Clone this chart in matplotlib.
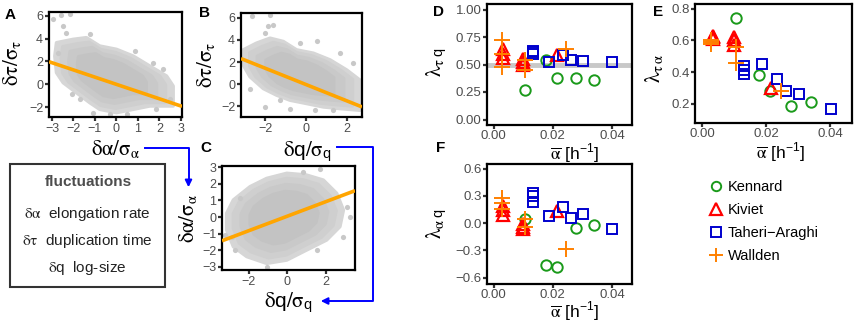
import matplotlib
matplotlib.use('Agg')
import matplotlib.pyplot as plt
from matplotlib.lines import Line2D
from matplotlib.patches import Rectangle, FancyArrowPatch
import numpy as np

plt.rcParams['font.family'] = ['Liberation Sans', 'DejaVu Sans']
plt.rcParams['mathtext.fontset'] = 'custom'
plt.rcParams['mathtext.rm'] = 'STIXGeneral'
plt.rcParams['mathtext.it'] = 'STIXGeneral:italic'
plt.rcParams['mathtext.sf'] = 'Liberation Sans'
plt.rcParams['mathtext.fallback'] = 'stix'

# ---------------- scatter panels (A, B, C) ----------------
# outline of the dense grey cloud
a_hull_x = [-2.79, -2.02, -1.40, -0.78, 0.0, 0.78, 1.55, 2.33, 2.64, 2.64, 1.55, 0.78, 0.0, -0.78, -1.24, -1.86, -2.48, -2.79, -2.87]
a_hull_y = [3.64, 3.93, 4.08, 3.35, 3.06, 2.47, 1.60, 0.73, -0.15, -1.89, -1.89, -2.18, -2.47, -2.18, -1.60, -0.73, 0.15, 1.02, 2.47]
a_out_x = [-2.95, -2.56, -2.17, -2.48, -2.33, -1.24, 0.85, 1.71, 2.17, -2.09, -1.71, -1.09, 0.47, 1.86, 2.48, -0.31, -2.71]
a_out_y = [5.68, 6.03, 6.11, 5.09, 4.51, 4.37, 2.91, 1.89, 1.31, -0.87, -1.31, -2.47, -2.62, -2.18, -1.31, -2.62, 2.77]
a_fit = [0.0, -0.63]

b_hull_x = [-3.07, -2.42, -1.76, -1.11, -0.46, 0.36, 1.18, 1.99, 2.64, 2.64, 1.67, 0.85, 0.03, -0.78, -1.44, -2.09, -2.74, -3.07]
b_hull_y = [3.10, 3.71, 4.16, 3.86, 3.10, 2.80, 2.19, 1.28, 0.36, -2.37, -2.22, -2.07, -1.76, -1.46, -1.00, -0.40, 0.67, 1.73]
b_out_x = [-2.66, -1.76, -2.01, -1.60, -1.84, -0.29, 0.52, 1.67, 2.32, -2.01, -0.78, 0.44, 1.34, -2.74, -1.27]
b_out_y = [6.2, 6.23, 4.62, 5.38, 5.23, 3.71, 3.86, 2.8, 1.88, -2.07, -2.22, -2.37, -2.37, -0.4, -1.46]
b_fit = [-0.04, -0.74]

c_hull_x = [-2.79, -1.93, -1.07, -0.03, 0.97, 1.86, 2.55, 2.90, 2.72, 2.03, 1.00, -0.03, -1.07, -2.10, -2.79, -3.14, -3.14]
c_hull_y = [1.03, 1.83, 2.33, 2.64, 2.54, 2.23, 1.43, 0.42, -0.58, -1.39, -1.99, -2.60, -2.80, -2.39, -1.79, -0.78, 0.22]
c_out_x = [-2.45, 1.69, 3.07, 3.24, 2.90, 1.52, -1.07, -2.88, -2.71, 0.83, -3.22]
c_out_y = [1.13, 2.88, 0.62, 0.02, -1.19, -1.99, -3.0, -1.19, -1.99, 2.74, -1.09]
c_fit = [0.05, 0.44]

# ---------------- correlation panels (D, E, F) ----------------
ken_x = [0.0107, 0.0177, 0.0213, 0.0278, 0.0338]
ken_tq = [0.27, 0.54, 0.38, 0.38, 0.355]
ken_ta = [0.74, 0.38, 0.28, 0.19, 0.21]
ken_aq = [0.05, -0.46, -0.48, -0.05, -0.02]

kiv_x = [0.0033, 0.0033, 0.0033, 0.0099, 0.0099, 0.0099, 0.0215]
kiv_tq = [0.64, 0.60, 0.56, 0.55, 0.52, 0.50, 0.59]
kiv_ta = [0.63, 0.62, 0.61, 0.62, 0.60, 0.57, 0.30]
kiv_aq = [0.19, 0.14, 0.085, -0.01, -0.045, -0.07, 0.13]

tah_x = [0.0132, 0.0132, 0.0132, 0.0188, 0.0234, 0.0260, 0.0303, 0.0401]
tah_tq = [0.62, 0.61, 0.60, 0.52, 0.59, 0.54, 0.535, 0.52]
tah_ta = [0.44, 0.415, 0.39, 0.45, 0.36, 0.28, 0.26, 0.17]
tah_aq = [0.33, 0.30, 0.23, 0.08, 0.18, 0.055, 0.10, -0.07]

wal_x = [0.0029, 0.0029, 0.0029, 0.0105, 0.0105, 0.0245]
wal_tq = [0.72, 0.60, 0.48, 0.54, 0.45, 0.64]
wal_ta = [0.60, 0.58, 0.59, 0.56, 0.46, 0.28]
wal_aq = [0.28, 0.22, 0.15, 0.05, -0.04, -0.29]

ref_tq = 0.5

series_names = ['Kennard', 'Kiviet', 'Taheri\u2212Araghi', 'Wallden']

W, H = 856, 322
fig = plt.figure(figsize=(W / 100, H / 100), dpi=100)


def px_axes(l, t, r, b):
    return fig.add_axes([l / W, 1 - b / H, (r - l) / W, (b - t) / H])


TICK_COL = '#4d4d4d'


def style(ax, fs, pad=1.2):
    for s in ax.spines.values():
        s.set_linewidth(1.6)
        s.set_color('black')
    ax.tick_params(axis='both', direction='out', length=3, width=1.6,
                   color='#333333', labelcolor=TICK_COL, labelsize=fs, pad=pad)


def scatter_panel(ax, hx, hy, ox, oy, fit, xlim, ylim, xt, yt):
    hx = np.asarray(hx)
    hy = np.asarray(hy)
    cx, cy = hx.mean(), hy.mean()
    # graded grey cloud: lighter rim, denser core
    for k, col in [(1.0, '#d6d6d6'), (0.88, '#cfcfcf'), (0.74, '#c9c9c9'), (0.58, '#c3c3c3')]:
        ax.fill(cx + k * (hx - cx), cy + k * (hy - cy), color=col, lw=2.5, ec=col,
                zorder=1, joinstyle='round')
    ax.scatter(ox, oy, s=14, color='#c8c8c8', lw=0, zorder=1)
    ax.set_xlim(*xlim)
    ax.set_ylim(*ylim)
    xs = np.array(xlim)
    ax.plot(xs, fit[0] + fit[1] * xs, color='#FFA500', lw=2.6, zorder=3,
            solid_capstyle='butt')
    ax.set_xticks(xt)
    ax.set_yticks(yt)
    style(ax, 9)


LAB_TA = r'$\mathrm{\delta\tau/\sigma_\tau}$'
LAB_A = r'$\mathrm{\delta\alpha/\sigma_\alpha}$'
LAB_Q = r'$\mathrm{\delta}\mathsf{q}\mathrm{/\sigma}_\mathsf{q}$'

axA = px_axes(49, 12, 182, 117)
scatter_panel(axA, a_hull_x, a_hull_y, a_out_x, a_out_y, a_fit,
              (-3.14, 3.05), (-2.85, 6.32), [-3, -2, -1, 0, 1, 2, 3], [-2, 0, 2, 4, 6])
axA.text(-0.275, 0.52, LAB_TA, transform=axA.transAxes,
         rotation=90, ha='center', va='center', fontsize=15)
axA.text(0.50, -0.30, LAB_A, transform=axA.transAxes,
         ha='center', va='center', fontsize=15)

axB = px_axes(241, 13, 362, 117)
scatter_panel(axB, b_hull_x, b_hull_y, b_out_x, b_out_y, b_fit,
              (-3.18, 2.74), (-2.98, 6.44), [-2, 0, 2], [-2, 0, 2, 4, 6])
axB.text(-0.29, 0.5, LAB_TA, transform=axB.transAxes,
         rotation=90, ha='center', va='center', fontsize=15)
axB.text(0.545, -0.33, LAB_Q, transform=axB.transAxes,
         ha='center', va='center', fontsize=15)

axC = px_axes(222, 166, 355, 270)
scatter_panel(axC, c_hull_x, c_hull_y, c_out_x, c_out_y, c_fit,
              (-3.38, 3.5), (-3.2, 3.08), [-2, 0, 2], [-3, -2, -1, 0, 1, 2, 3])
axC.text(-0.256, 0.5, LAB_A, transform=axC.transAxes,
         rotation=90, ha='center', va='center', fontsize=15)
axC.text(0.496, -0.31, LAB_Q, transform=axC.transAxes,
         ha='center', va='center', fontsize=15)

# ---------------- right panels ----------------
styles = [
    dict(marker='o', color='#1a9a1a', ms=7.5, mfc='none', mew=1.4),
    dict(marker='^', color='#ff0000', ms=9, mfc='none', mew=1.6),
    dict(marker='s', color='#0000cd', ms=7.5, mfc='none', mew=1.4),
    dict(marker='+', color='#ff8000', ms=11, mew=1.4),
]
xs_all = [ken_x, kiv_x, tah_x, wal_x]

XLAB = r'$\overline{\mathrm{\alpha}}$ [h$^{\mathsf{-1}}$]'


def corr_panel(ax, ys, ylim, yt, ytl, ylabel, ylx, yly, xlx, xly_px):
    for x, y, st in zip(xs_all, ys, styles):
        ax.plot(x, y, ls='none', zorder=3, **st)
    ax.set_xlim(-0.0022, 0.0467)
    ax.set_ylim(*ylim)
    ax.set_xticks([0, 0.02, 0.04])
    ax.set_xticklabels(['0.00', '0.02', '0.04'])
    ax.set_yticks(yt)
    ax.set_yticklabels(ytl)
    style(ax, 9.5, pad=0.8)
    ax.text(ylx, yly, ylabel, transform=ax.transAxes, rotation=90,
            ha='center', va='center', fontsize=15)
    # x label placed by its baseline in figure pixels
    fig.text(xlx, 1 - xly_px / H, XLAB, ha='center', va='baseline', fontsize=12.5)


axD = px_axes(487, 4, 632, 125)
axD.axhline(ref_tq, color='#c8c8c8', lw=3.5, zorder=1)
corr_panel(axD, [ken_tq, kiv_tq, tah_tq, wal_tq], (-0.05, 1.05),
           [0, 0.25, 0.5, 0.75, 1.0], ['0.00', '0.25', '0.50', '0.75', '1.00'],
           r'$\mathrm{\lambda_{\tau\,}}_\mathsf{q}$', -0.345, 0.52, 575 / W, 159.5)

axE = px_axes(695, 4, 852, 123)
corr_panel(axE, [ken_ta, kiv_ta, tah_ta, wal_ta], (0.08, 0.83),
           [0.2, 0.4, 0.6, 0.8], ['0.2', '0.4', '0.6', '0.8'],
           r'$\mathrm{\lambda_{\tau\,\alpha}}$', -0.26, 0.46, 781 / W, 158)

axF = px_axes(487, 163.5, 632, 283.5)
corr_panel(axF, [ken_aq, kiv_aq, tah_aq, wal_aq], (-0.665, 0.655),
           [-0.6, -0.3, 0.0, 0.3, 0.6], ['\u22120.6', '\u22120.3', '0.0', '0.3', '0.6'],
           r'$\mathrm{\lambda_{\alpha\,}}_\mathsf{q}$', -0.345, 0.5, 575 / W, 317.5)

# legend
handles = [Line2D([], [], ls='none', **{**st, 'ms': st['ms'] * 0.9}) for st in styles]
fig.legend(handles, series_names, loc='upper left', bbox_to_anchor=(709 / W, 1 - 180 / H),
           frameon=False, fontsize=10.5, handlelength=1.0, handletextpad=0.3,
           labelspacing=0.62, borderpad=0, borderaxespad=0)

# panel letters
for lab, (x, y) in {'A': (10, 15), 'B': (205, 13), 'C': (206, 148), 'D': (438, 12),
                    'E': (658, 12), 'F': (441, 148)}.items():
    fig.text(x / W, 1 - y / H, lab, ha='center', va='center', fontsize=11, fontweight='bold')

# box describing the fluctuations
fig.patches.append(Rectangle((10 / W, 1 - 287 / H), 155 / W, 123 / H, transform=fig.transFigure,
                             fill=False, ec='#333333', lw=1.5))
fig.text(88 / W, 1 - 182 / H, 'fluctuations', ha='center', va='center', fontsize=11,
         fontweight='bold', color='#4d4d4d')
fig.text(87 / W, 1 - 214 / H, r'$\mathrm{\delta\alpha}$  elongation rate', ha='center', va='center',
         fontsize=11, color='#222222')
fig.text(87 / W, 1 - 241 / H, r'$\mathrm{\delta\tau}$  duplication time', ha='center', va='center',
         fontsize=11, color='#222222')
fig.text(87 / W, 1 - 268 / H, r'$\mathrm{\delta}$q  log-size', ha='center', va='center',
         fontsize=11, color='#222222')

# blue connector arrows
blue = '#0000ff'
fig.add_artist(Line2D([145 / W, 188.5 / W, 188.5 / W], [1 - 148 / H, 1 - 148 / H, 1 - 182 / H],
                      transform=fig.transFigure, color=blue, lw=1.4))
fig.add_artist(FancyArrowPatch((188.5 / W, 1 - 178 / H), (188.5 / W, 1 - 190 / H),
                               transform=fig.transFigure, color=blue,
                               arrowstyle='-|>,head_length=4,head_width=2', lw=1.4))
fig.add_artist(Line2D([337 / W, 373 / W, 373 / W, 326 / W],
                      [1 - 147 / H, 1 - 147 / H, 1 - 301 / H, 1 - 301 / H],
                      transform=fig.transFigure, color=blue, lw=1.4))
fig.add_artist(FancyArrowPatch((330 / W, 1 - 301 / H), (318 / W, 1 - 301 / H),
                               transform=fig.transFigure, color=blue,
                               arrowstyle='-|>,head_length=4,head_width=2', lw=1.4))

fig.savefig('out.png', dpi=100)
